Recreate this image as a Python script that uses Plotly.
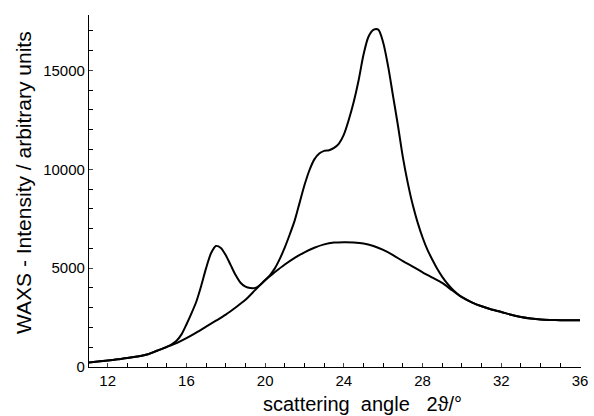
import plotly.graph_objects as go

# Amorphous background (broad halo)
bg_x = [11.05, 11.5, 12, 12.5, 13, 13.5, 14, 14.5, 15, 15.5, 16, 16.5, 17, 17.5, 18, 18.5, 19, 19.5, 20,
        20.5, 21, 21.5, 22, 22.5, 23, 23.5, 24, 24.5, 25, 25.5, 26, 26.5, 27, 27.5, 28, 28.5, 29, 29.5,
        30, 30.5, 31, 31.5, 32, 32.5, 33, 33.5, 34, 34.5, 35, 35.5, 36]
bg_y = [230, 280, 330, 390, 450, 530, 630, 820, 1010, 1210, 1460, 1740, 2040, 2340, 2650, 3010, 3400, 3900, 4400,
        4800, 5180, 5520, 5800, 6030, 6200, 6290, 6310, 6300, 6250, 6120, 5920, 5660, 5350, 5080, 4790, 4520, 4250, 3880,
        3530, 3270, 3070, 2910, 2780, 2640, 2530, 2450, 2400, 2380, 2370, 2360, 2360]

# Measured total WAXS intensity
tot_x = [11.05, 11.5, 12, 12.5, 13, 13.5, 14, 14.5,
         15.0, 15.25, 15.5, 15.75, 16.0, 16.25, 16.5, 16.75, 17.0, 17.25, 17.5, 17.75,
         18.0, 18.25, 18.5, 18.75, 19.0, 19.25, 19.5, 19.75, 20.0, 20.25, 20.5, 20.75,
         21.0, 21.25, 21.5, 21.75, 22.0, 22.25, 22.5, 22.75, 23.0, 23.25, 23.5, 23.75,
         24.0, 24.25, 24.5, 24.75, 25.0, 25.25, 25.5, 25.75, 26.0, 26.25, 26.5, 26.75,
         27.0, 27.25, 27.5, 27.75, 28.0, 28.25, 28.5, 28.75, 29.0, 29.25, 29.5, 29.75,
         30, 30.5, 31, 31.5, 32, 32.5, 33, 33.5, 34, 34.5, 35, 35.5, 36]
tot_y = [230, 280, 330, 390, 450, 530, 630, 820,
         1020, 1150, 1330, 1650, 2150, 2700, 3300, 4100, 5000, 5750, 6120, 6020,
         5650, 5150, 4650, 4260, 4060, 3990, 4000, 4150, 4380, 4650, 5000, 5480,
         6050, 6700, 7400, 8300, 9200, 9950, 10500, 10800, 10930, 10960, 11080, 11300,
         11750, 12500, 13400, 14500, 15800, 16700, 17050, 17060, 16400, 15200, 13700, 12200,
         10600, 9300, 8200, 7300, 6550, 5920, 5420, 4950, 4560, 4230, 3950, 3720,
         3530, 3270, 3070, 2910, 2780, 2640, 2530, 2450, 2400, 2380, 2370, 2360, 2360]

x_range = [11.05, 36.05]
y_range = [0, 17800]
y_title = "WAXS - Intensity / arbitrary units"
x_title = "scattering  angle   2ϑ/°"

fig = go.Figure()
line = dict(color="black", width=2, shape="spline", smoothing=0.8)
fig.add_trace(go.Scatter(x=bg_x, y=bg_y, mode="lines", line=line, showlegend=False, hoverinfo="skip"))
fig.add_trace(go.Scatter(x=tot_x, y=tot_y, mode="lines", line=line, showlegend=False, hoverinfo="skip"))

font = dict(family="Liberation Sans, Arial, sans-serif", color="black")

fig.update_layout(
    width=594, height=416,
    margin=dict(l=89, r=6, t=15, b=49),
    paper_bgcolor="white", plot_bgcolor="white",
    font=dict(**font, size=15),
    xaxis=dict(range=x_range, tick0=12, dtick=4, ticks="inside", ticklen=4, tickwidth=1.2,
               showline=True, linecolor="black", linewidth=1.3, showgrid=False, zeroline=False,
               tickfont=dict(**font, size=15), ticklabeloverflow="allow",
               minor=dict(dtick=1, tick0=12, ticks="inside", ticklen=4, tickcolor="black", tickwidth=1.2, showgrid=False)),
    yaxis=dict(range=y_range, tick0=0, dtick=5000, tickformat="d", ticks="inside", ticklen=4, tickwidth=1.2,
               showline=True, linecolor="black", linewidth=1.3, showgrid=False, zeroline=False,
               tickfont=dict(**font, size=15),
               minor=dict(dtick=1000, ticks="inside", ticklen=4, tickcolor="black", tickwidth=1.2, showgrid=False)),
    annotations=[
        dict(text=y_title, xref="paper", yref="paper", x=-0.132, y=0.523, textangle=-90,
             showarrow=False, xanchor="center", yanchor="middle", font=dict(**font, size=21)),
        dict(text=x_title, xref="paper", yref="paper", x=0.555, y=-0.105,
             showarrow=False, xanchor="center", yanchor="middle", font=dict(**font, size=20)),
    ],
)

fig.write_html("out.html", config={"displayModeBar": False},
               post_script="document.body.style.margin='0';document.body.style.padding='0';")
